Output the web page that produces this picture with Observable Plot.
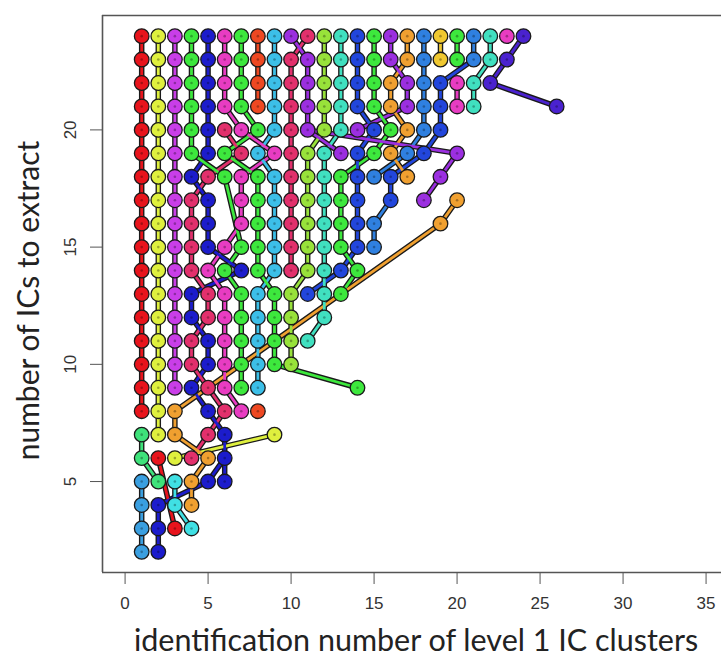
<!DOCTYPE html>
<html><head><meta charset="utf-8">
<script src="https://cdn.jsdelivr.net/npm/d3@7"></script>
<script src="https://cdn.jsdelivr.net/npm/@observablehq/plot@0.6"></script>
<style>body{margin:0;background:#fff;}</style>
</head><body><div id="chart"></div>
<script>
// number of ICs to extract (y levels)
const levels = d3.range(2, 25);
// cluster colour codes per level; character i = cluster id i+1, "." = no cluster
const rowCodes = [
  "WB",                        // 2
  "WBRX",                      // 3
  "WBXN",                      // 4
  "WSXNBB",                    // 5
  "SRYKNB",                    // 6
  "SYN.KB..Y",                 // 7
  "RYN.BKPO",                  // 8
  "RYMBKPGC.....G",            // 9
  "RYMKBPGCGL",                // 10
  "RYMKBPGCGLA",               // 11
  "RYMBKPGCGL.A",              // 12
  "RYMBKPGCGLUAG",             // 13
  "RYMKPGBGCKLAUG",            // 14
  "RYMKBPGGCKLAGUZ",           // 15
  "RYMKB.PGCKLAGUZ...N",       // 16
  "RYMKB.PGCKLAGU.U.V.N",      // 17
  "RYMBKGPGCKLAGUZUN.V",       // 18
  "RYMGBGKCPKLAVUGNZU.V",      // 19
  "RYMGBKPGCKVLAVUGNZU",       // 20
  "RYMGBPGOCKVLAUGNVZUPA....I",// 21
  "RYMGBPGOCKVLAUGNVZUPAI",    // 22
  "RYMGBPGOCKVLAUGVNZDGZAI",   // 23
  "RYMGBPGOCVKLAUGVNZDGZAPI"   // 24
];
const colorKeys   = ["R","Y","M","G","B","P","K","O","C","V","L","A","U","N","Z","D","I","S","W","X"];
const colorValues = ["#e8141c","#dff03e","#c93ee8","#3de83d","#1c1ccc","#e83cc2","#e2306c","#ee4822","#3cbfe8","#9b2fe0","#98e23a","#40e0c0","#2246dc","#f0a030","#2f80e0","#f0c830","#4a22cf","#3ee27a","#3a9fe0","#40e0e4"];
// non-trivial tree links: [child id, child level, parent id, parent level]
const parentLinks = [
  [3,3,2,6],[4,3,3,4],[2,4,5,5],[2,5,1,6],[5,5,6,6],[4,5,5,6],[3,6,9,7],[4,6,5,7],[5,6,3,7],
  [5,7,6,8],[6,7,5,8],[3,8,19,16],[19,16,20,17],[5,8,4,9],[6,8,5,9],[7,8,6,9],
  [4,9,5,10],[5,9,4,10],[14,9,9,10],[4,11,5,12],[5,11,4,12],[11,11,12,12],
  [11,13,13,14],[13,13,14,14],[4,13,7,14],[5,13,4,14],[6,13,5,14],[7,13,6,14],[8,13,9,14],[9,13,8,14],[10,13,11,14],
  [5,14,6,15],[6,14,7,15],[7,14,5,15],[13,14,14,15],[14,14,13,15],
  [6,15,7,16],[7,15,6,18],[15,16,16,17],[4,17,5,18],[5,17,4,18],[18,17,19,18],
  [4,18,5,19],[5,18,7,19],[6,18,4,19],[7,18,9,19],[8,18,6,19],[9,18,8,19],[13,18,15,19],[15,18,17,19],[16,18,18,19],[17,18,16,19],[19,18,20,19],
  [6,19,8,20],[7,19,6,20],[8,19,9,20],[9,19,7,20],[11,19,12,20],[12,19,13,20],[13,19,11,20],[20,19,11,20],[14,19,15,20],[15,19,16,20],[16,19,17,20],[17,19,18,20],[18,19,19,20],
  [7,20,6,21],[8,20,7,21],[14,20,17,21],[15,20,14,21],[16,20,15,21],[17,20,16,21],
  [26,21,22,22],[16,22,17,23],[17,22,16,23],[19,22,21,23],[21,22,22,23],[22,22,23,23],
  [10,23,11,24],[11,23,10,24],[23,23,24,24]
];
const xTicks = [0,5,10,15,20,25,30,35];
const yTicks = [5,10,15,20];
const xDomain = [-1.361, 35.93];
const yDomain = [1.12, 24.88];

const colorOf = k => colorValues[colorKeys.indexOf(k)];
const points = [];
const byKey = new Map();
levels.forEach((lev, i) => {
  [...rowCodes[i]].forEach((ch, j) => {
    if (ch === ".") return;
    const p = {x: j + 1, y: lev, c: ch};
    points.push(p); byKey.set(p.x + "," + p.y, p);
  });
});
const explicit = new Map(parentLinks.map(([a,b,c,d]) => [a+","+b, [c,d]]));
const links = [];
for (const p of points) {
  const k = p.x + "," + p.y;
  if (explicit.has(k)) {
    const [px, py] = explicit.get(k);
    links.push({x1: p.x, y1: p.y, x2: px, y2: py, c: p.c});
  } else {
    const up = byKey.get(p.x + "," + (p.y + 1));
    if (up && up.c === p.c) links.push({x1: p.x, y1: p.y, x2: up.x, y2: up.y, c: p.c});
  }
}

const titleFont = "Lato, 'Open Sans', sans-serif";
const chart = Plot.plot({
  width: 721, height: 664,
  marginLeft: 102, marginRight: 0, marginTop: 15, marginBottom: 92,
  x: {domain: xDomain, label: null},
  y: {domain: yDomain, label: null},
  style: {fontFamily: "'Liberation Sans', Arial, sans-serif", fontSize: "17px", color: "#333", background: "#fff"},
  marks: [
    Plot.link(links, {x1: "x1", y1: "y1", x2: "x2", y2: "y2", stroke: "#1a1a1a", strokeWidth: 5.5, strokeLinecap: "round"}),
    Plot.link(links, {x1: "x1", y1: "y1", x2: "x2", y2: "y2", stroke: d => colorOf(d.c), strokeWidth: 2.8, strokeLinecap: "round"}),
    Plot.dot(points, {x: "x", y: "y", r: 7.3, fill: d => colorOf(d.c), stroke: "#1a1a1a", strokeWidth: 1.3}),
    Plot.dot(points, {x: "x", y: "y", r: 1.3, fill: "#000", fillOpacity: 0.3}),
    Plot.ruleY([yDomain[0], yDomain[1]], {stroke: "#555", strokeWidth: 1.6}),
    Plot.ruleX([xDomain[0]], {stroke: "#555", strokeWidth: 1.6}),
    Plot.axisX({ticks: xTicks, tickSize: 12, tickPadding: 12, fontSize: 17, label: null, stroke: "#555"}),
    Plot.axisY({ticks: yTicks, tickSize: 12, tickPadding: 15, tickRotate: -90, fontSize: 17, label: null, stroke: "#555"}),
    Plot.text(["identification number of level 1 IC clusters"], {frameAnchor: "bottom", textAnchor: "middle", dy: 78, dx: 4, fontSize: 30.5, fontFamily: titleFont, fill: "#222"}),
    Plot.text(["number of ICs to extract"], {frameAnchor: "left", textAnchor: "middle", rotate: -90, dx: -73, dy: 6.5, fontSize: 30, fontFamily: titleFont, fill: "#222"})
  ]
});
document.getElementById("chart").appendChild(chart);
</script>
</body></html>
